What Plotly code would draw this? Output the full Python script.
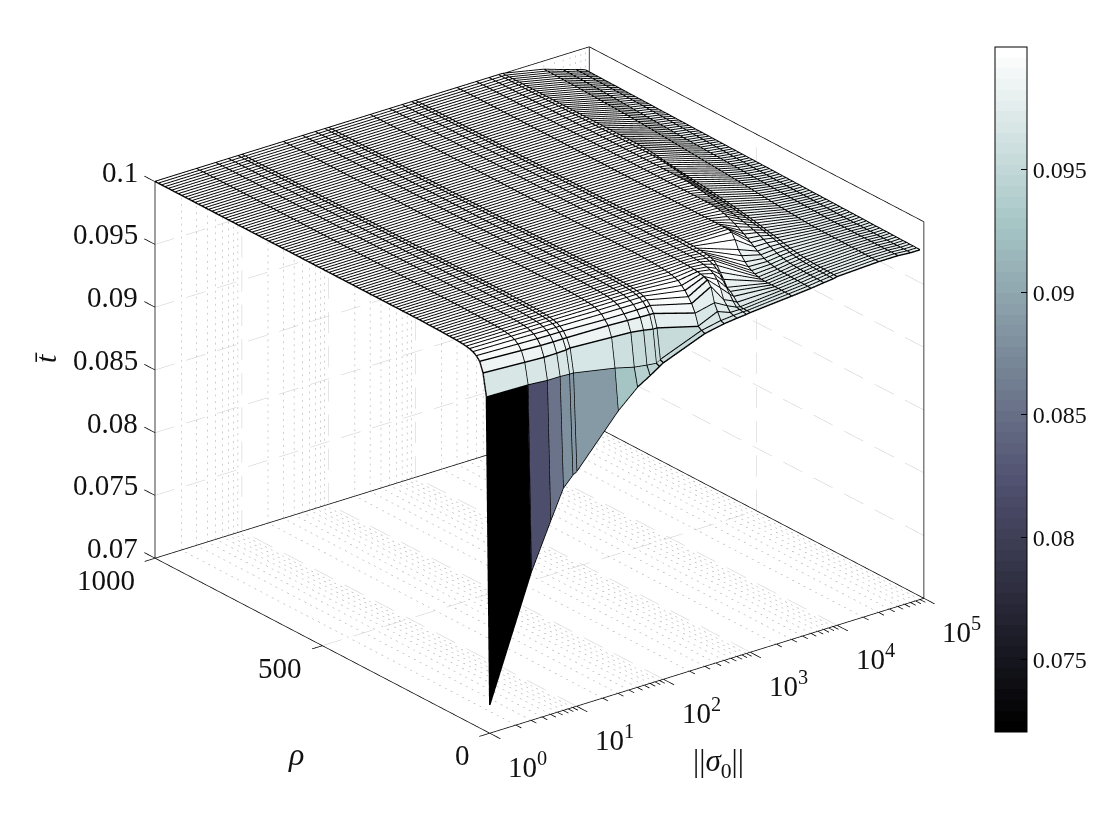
import numpy as np
import plotly.graph_objects as go

# ---------- data ----------
sigma = [1, 3, 5, 7, 9, 10, 30, 50, 70, 90, 100, 300, 500, 700, 900, 1000,
         3000, 5000, 7000, 9000, 10000, 30000, 50000, 70000, 90000]
rho_near = list(range(0, 200, 10))
rho_far = list(range(200, 1001, 10))

# t-bar x 1e5, one list per sigma column, rows = rho_near
near_columns = [
    [7223, 9667, 9841, 9920, 9950, 9968, 9978, 9984, 9988, 9990, 9992, 9993, 9994, 9995, 9996, 9997, 9997, 9998, 9998, 9999],
    [8180, 9660, 9823, 9903, 9940, 9962, 9974, 9981, 9986, 9989, 9991, 9993, 9994, 9995, 9996, 9997, 9997, 9998, 9998, 9999],
    [8540, 9647, 9815, 9895, 9935, 9958, 9972, 9980, 9985, 9988, 9991, 9992, 9994, 9995, 9996, 9996, 9997, 9998, 9998, 9999],
    [8770, 9647, 9816, 9893, 9933, 9957, 9971, 9980, 9985, 9988, 9990, 9992, 9994, 9995, 9996, 9996, 9997, 9998, 9998, 9999],
    [8850, 9642, 9819, 9893, 9932, 9956, 9971, 9979, 9985, 9988, 9990, 9992, 9994, 9995, 9996, 9996, 9997, 9998, 9998, 9999],
    [8870, 9642, 9825, 9893, 9932, 9956, 9971, 9979, 9985, 9988, 9990, 9992, 9994, 9995, 9996, 9996, 9997, 9998, 9998, 9999],
    [9250, 9578, 9807, 9887, 9920, 9950, 9966, 9977, 9983, 9987, 9990, 9992, 9993, 9995, 9996, 9996, 9997, 9998, 9998, 9999],
    [9390, 9538, 9799, 9880, 9918, 9948, 9965, 9976, 9982, 9987, 9990, 9992, 9993, 9994, 9995, 9996, 9997, 9998, 9998, 9999],
    [9450, 9523, 9785, 9875, 9918, 9947, 9964, 9975, 9982, 9986, 9989, 9991, 9993, 9994, 9995, 9996, 9997, 9997, 9998, 9998],
    [9500, 9514, 9770, 9872, 9918, 9947, 9964, 9975, 9982, 9986, 9989, 9991, 9993, 9994, 9995, 9996, 9997, 9997, 9998, 9998],
    [9520, 9530, 9770, 9871, 9920, 9950, 9966, 9976, 9982, 9986, 9989, 9991, 9993, 9994, 9995, 9996, 9997, 9997, 9998, 9998],
    [9650, 9660, 9680, 9772, 9833, 9873, 9909, 9935, 9960, 9970, 9978, 9984, 9988, 9991, 9993, 9995, 9996, 9997, 9998, 9998],
    [9681, 9690, 9749, 9807, 9920, 9960, 9972, 9978, 9983, 9987, 9990, 9992, 9994, 9995, 9996, 9997, 9997, 9998, 9998, 9999],
    [9693, 9700, 9710, 9750, 9785, 9865, 9917, 9950, 9966, 9975, 9982, 9987, 9990, 9992, 9994, 9995, 9996, 9997, 9998, 9998],
    [9700, 9705, 9710, 9715, 9750, 9790, 9830, 9870, 9910, 9940, 9960, 9970, 9978, 9984, 9988, 9991, 9993, 9995, 9996, 9997],
    [9705, 9705, 9706, 9708, 9730, 9763, 9789, 9807, 9857, 9900, 9941, 9967, 9978, 9985, 9989, 9992, 9994, 9996, 9997, 9998],
    [9734, 9735, 9736, 9737, 9737, 9738, 9738, 9738, 9738, 9740, 9745, 9755, 9768, 9785, 9810, 9845, 9880, 9945, 9990, 10000],
    [9748, 9749, 9750, 9751, 9752, 9753, 9754, 9755, 9756, 9757, 9760, 9765, 9772, 9780, 9790, 9805, 9820, 9840, 9860, 9880],
    [9761, 9762, 9763, 9764, 9765, 9766, 9767, 9768, 9770, 9772, 9775, 9779, 9785, 9792, 9800, 9812, 9825, 9840, 9855, 9868],
    [9769, 9770, 9771, 9772, 9773, 9774, 9775, 9776, 9778, 9780, 9783, 9787, 9792, 9798, 9805, 9813, 9822, 9832, 9840, 9848],
    [9777, 9777, 9778, 9779, 9780, 9780, 9781, 9782, 9784, 9786, 9789, 9792, 9796, 9801, 9807, 9813, 9820, 9827, 9834, 9840],
    [9793, 9793, 9794, 9794, 9795, 9795, 9795, 9796, 9796, 9796, 9797, 9797, 9797, 9798, 9798, 9798, 9798, 9799, 9799, 9800],
    [9793, 9793, 9793, 9793, 9793, 9793, 9793, 9794, 9794, 9794, 9794, 9794, 9794, 9794, 9794, 9794, 9795, 9795, 9795, 9795],
    [9785, 9785, 9785, 9786, 9786, 9786, 9786, 9787, 9787, 9787, 9787, 9788, 9788, 9788, 9788, 9789, 9789, 9789, 9789, 9790],
    [9785, 9785, 9786, 9786, 9787, 9787, 9787, 9788, 9788, 9789, 9789, 9789, 9790, 9790, 9790, 9791, 9791, 9792, 9792, 9792],
]

# rows = rho_far; the plateau of the surface sits at 0.1
plateau = [10000] * 81
far_5000 = [9900, 9915, 9930, 9945, 9958, 9970, 9980, 9988, 9994, 9998] + [10000] * 71
far_7000 = [9880, 9888, 9896, 9904, 9911, 9918, 9925, 9932, 9938, 9944, 9950, 9955, 9960, 9965,
            9970, 9975, 9980, 9984, 9988, 9992, 9996, 9998, 9999] + [10000] * 58
far_9000 = [9855, 9862, 9868, 9874, 9880, 9886, 9892, 9897, 9902, 9907, 9912, 9916, 9920, 9924,
            9928, 9932, 9936, 9940, 9944, 9947, 9950, 9954, 9958, 9962, 9966, 9970, 9974, 9978,
            9982, 9986, 9990, 9993, 9996, 9998, 9999] + [10000] * 46
far_10000 = [9845, 9851, 9857, 9863, 9869, 9875, 9880, 9885, 9890, 9895, 9900, 9904, 9908, 9912,
             9916, 9920, 9924, 9928, 9932, 9935, 9938, 9941, 9944, 9947, 9950, 9953, 9956, 9960,
             9964, 9968, 9972, 9976, 9980, 9984, 9988, 9992, 9995, 9997, 9998, 9999] + [10000] * 41
far_30000 = [9800, 9802, 9804, 9806, 9808, 9810, 9812, 9814, 9816, 9818,
             9820, 9822, 9824, 9827, 9830, 9832, 9834, 9837, 9840, 9842,
             9845, 9847, 9849, 9851, 9853, 9855, 9857, 9859, 9861, 9863,
             9865, 9867, 9869, 9871, 9873, 9875, 9877, 9879, 9881, 9883,
             9885, 9887, 9889, 9891, 9893, 9895, 9897, 9899, 9901, 9902,
             9903, 9905, 9906, 9908, 9909, 9911, 9912, 9913, 9914, 9915,
             9916, 9917, 9918, 9919, 9920, 9921, 9922, 9923, 9924, 9925,
             9926, 9926, 9927, 9927, 9928, 9928, 9929, 9929, 9930, 9930, 9931]
far_50000 = [9795, 9796, 9797, 9798, 9799, 9800, 9801, 9802, 9803, 9804,
             9805, 9806, 9807, 9808, 9809, 9810, 9811, 9812, 9813, 9814,
             9815, 9816, 9817, 9818, 9819, 9820, 9821, 9822, 9823, 9824,
             9825, 9826, 9827, 9828, 9829, 9830, 9831, 9832, 9833, 9834,
             9835, 9836, 9838, 9839, 9840, 9841, 9842, 9843, 9845, 9846,
             9847, 9848, 9850, 9851, 9852, 9853, 9855, 9856, 9857, 9858,
             9860, 9861, 9862, 9864, 9865, 9866, 9867, 9868, 9870, 9871,
             9872, 9873, 9874, 9875, 9876, 9877, 9877, 9878, 9879, 9879, 9880]
far_70000 = [9790, 9791, 9791, 9792, 9793, 9793, 9794, 9795, 9795, 9796,
             9797, 9797, 9798, 9799, 9799, 9800, 9801, 9801, 9802, 9803,
             9803, 9804, 9805, 9805, 9806, 9807, 9807, 9808, 9809, 9809,
             9810, 9811, 9812, 9813, 9814, 9815, 9816, 9817, 9818, 9819,
             9820, 9821, 9822, 9823, 9824, 9825, 9826, 9827, 9828, 9829,
             9830, 9831, 9832, 9833, 9834, 9835, 9836, 9837, 9838, 9839,
             9840, 9841, 9841, 9842, 9843, 9843, 9844, 9845, 9845, 9846,
             9846, 9847, 9847, 9848, 9848, 9849, 9849, 9849, 9850, 9850, 9850]
far_90000 = [9793, 9793, 9794, 9794, 9794, 9795, 9795, 9796, 9796, 9796,
             9797, 9797, 9797, 9798, 9798, 9799, 9799, 9799, 9800, 9800,
             9801, 9801, 9801, 9802, 9802, 9803, 9803, 9803, 9804, 9804,
             9805, 9805, 9805, 9806, 9806, 9807, 9807, 9807, 9808, 9808,
             9809, 9809, 9809, 9810, 9810, 9811, 9811, 9811, 9812, 9812,
             9813, 9813, 9813, 9814, 9814, 9815, 9815, 9815, 9816, 9816,
             9817, 9817, 9817, 9818, 9818, 9819, 9819, 9819, 9820, 9820,
             9821, 9821, 9821, 9822, 9822, 9823, 9823, 9823, 9824, 9824, 9824]
far_columns = [plateau] * 17 + [far_5000, far_7000, far_9000, far_10000, far_30000,
                                far_50000, far_70000, far_90000]

x_major = [1, 10, 100, 1000, 10000, 100000]
x_minor_mult = [2, 3, 4, 5, 6, 7, 8, 9]
y_ticks = [0, 500, 1000]
z_ticks = [0.07, 0.075, 0.08, 0.085, 0.09, 0.095, 0.1]
z_tick_text = ["0.07", "0.075", "0.08", "0.085", "0.09", "0.095", "0.1"]
cbar_ticks = [0.075, 0.08, 0.085, 0.09, 0.095]
cbar_text = ["0.075", "0.08", "0.085", "0.09", "0.095"]
c_min, c_max = 0.07206, 0.1

FONT = "Liberation Serif"
X0, X1, Y0, Y1, Z0, Z1 = 1, 100000, 0, 1000, 0.07, 0.1

# ---------- derived ----------
rho = rho_near + rho_far
Z = np.array([n + f for n, f in zip(near_columns, far_columns)], dtype=float).T / 1e5
nr, nc = Z.shape

# MATLAB bone colormap with 64 steps
t = np.linspace(0, 1, 64)
r = np.interp(t, [0, 0.746032, 1], [0, 0.652778, 1])
g = np.interp(t, [0, 0.365079, 0.746032, 1], [0, 0.319444, 0.777778, 1])
b = np.interp(t, [0, 0.365079, 1], [0, 0.444444, 1])
bone = []
for n in range(64):
    col = f"rgb({int(r[n]*255)},{int(g[n]*255)},{int(b[n]*255)})"
    bone += [[n / 64, col], [(n + 1) / 64, col]]

vx, vy, vz = [], [], []
for jr in range(nr):
    for ic in range(nc):
        vx.append(sigma[ic]); vy.append(rho[jr]); vz.append(Z[jr, ic])
I, J, K, C = [], [], [], []
for jr in range(nr - 1):
    for ic in range(nc - 1):
        a = jr * nc + ic
        I += [a, a]; J += [a + 1, a + nc + 1]; K += [a + nc + 1, a + nc]
        C += [Z[jr, ic], Z[jr, ic]]

fig = go.Figure()
fig.add_trace(go.Mesh3d(
    x=vx, y=vy, z=vz, i=I, j=J, k=K, intensity=C, intensitymode="cell",
    colorscale=bone, cmin=c_min, cmax=c_max, flatshading=True,
    lighting=dict(ambient=1, diffuse=0, specular=0, roughness=1, fresnel=0),
    hoverinfo="skip",
    colorbar=dict(
        x=995 / 1120, xanchor="left", xpad=0, y=108 / 840, yanchor="bottom", ypad=0,
        thickness=32, thicknessmode="pixels", len=685, lenmode="pixels",
        outlinecolor="black", outlinewidth=1, ticks="inside", ticklen=6, tickcolor="black",
        tickvals=cbar_ticks, ticktext=cbar_text,
        tickfont=dict(family=FONT, size=24, color="#111"))))


def lines(segs, color, width=1):
    xs, ys, zs = [], [], []
    for p, q in segs:
        xs += [p[0], q[0], None]; ys += [p[1], q[1], None]; zs += [p[2], q[2], None]
    fig.add_trace(go.Scatter3d(x=xs, y=ys, z=zs, mode="lines", hoverinfo="skip", showlegend=False,
                               line=dict(color=color, width=width)))


def dashed(p, q, periods, on):
    """Dashes along p->q, geometric in x because that axis is logarithmic."""
    out = []
    for n in range(periods):
        a, b_ = n / periods, (n + on) / periods
        def at(s):
            return (p[0] * (q[0] / p[0]) ** s, p[1] + (q[1] - p[1]) * s, p[2] + (q[2] - p[2]) * s)
        out.append((at(a), at(b_)))
    return out


x_minor = [m * d for d in x_major[:-1] for m in x_minor_mult]
z_major_seg, minor_seg = [], []
for v in x_major[1:-1]:
    z_major_seg += dashed((v, Y1, Z0), (v, Y1, Z1), 11, 0.62)
    z_major_seg += dashed((v, Y0, Z0), (v, Y1, Z0), 11, 0.62)
for v in x_minor:
    minor_seg += dashed((v, Y1, Z0), (v, Y1, Z1), 58, 0.3)
    minor_seg += dashed((v, Y0, Z0), (v, Y1, Z0), 58, 0.3)
for v in z_ticks[1:-1]:
    z_major_seg += dashed((X0, Y1, v), (X1, Y1, v), 14, 0.62)
    z_major_seg += dashed((X1, Y0, v), (X1, Y1, v), 11, 0.62)
for v in y_ticks[1:-1]:
    z_major_seg += dashed((X0, v, Z0), (X1, v, Z0), 14, 0.62)
    z_major_seg += dashed((X1, v, Z0), (X1, v, Z1), 11, 0.62)
lines(minor_seg, "#a0a0a0")
lines(z_major_seg, "#cccccc")

# box
box = [((X0, Y0, Z0), (X1, Y0, Z0)), ((X0, Y0, Z0), (X0, Y1, Z0)),
       ((X0, Y1, Z0), (X1, Y1, Z0)), ((X1, Y0, Z0), (X1, Y1, Z0)),
       ((X0, Y1, Z0), (X0, Y1, Z1)), ((X1, Y0, Z0), (X1, Y0, Z1)), ((X1, Y1, Z0), (X1, Y1, Z1)),
       ((X0, Y1, Z1), (X1, Y1, Z1)), ((X1, Y0, Z1), (X1, Y1, Z1))]
ticks = []
for v in x_major:
    ticks.append(((v, Y0, Z0), (v, Y0 - 32, Z0)))
for v in x_minor:
    ticks.append(((v, Y0, Z0), (v, Y0 - 16, Z0)))
for v in y_ticks:
    ticks.append(((X0, v, Z0), (X0 * 10 ** -0.12, v, Z0)))
for v in z_ticks:
    ticks.append(((X0, Y1, v), (X0, Y1 + 32, v)))
lines(box + ticks, "#000000", 1.5)

# mesh lines, lifted a hair so they are not lost in the facets
lift = 1.5e-5
row_segs = [((sigma[c], rho[j], Z[j, c] + lift), (sigma[c + 1], rho[j], Z[j, c + 1] + lift))
            for j in range(nr) for c in range(nc - 1)]
col_segs = [((sigma[c], rho[j], Z[j, c] + lift), (sigma[c], rho[j + 1], Z[j + 1, c] + lift))
            for c in range(nc) for j in range(nr - 1)]
lines(row_segs + col_segs, "#000000", 2.8)

tf = dict(family=FONT, size=29, color="#111")
scene_ann = []
for v, s in zip(z_ticks, z_tick_text):
    scene_ann.append(dict(x=np.log10(X0), y=Y1, z=v, text=s, showarrow=False, xanchor="right", xshift=-15, yshift=10, font=tf))
for v in y_ticks:
    scene_ann.append(dict(x=np.log10(X0), y=v, z=Z0, text=str(v), showarrow=False, xanchor="right", xshift=-18, yshift=-22, font=tf))
for e, v in enumerate(x_major):
    scene_ann.append(dict(x=np.log10(v), y=Y0, z=Z0, text=f"10<sup>{e}</sup>", showarrow=False, xanchor="center",
                          xshift=38, yshift=-32, font=tf))

hidden = dict(visible=False, showgrid=False, zeroline=False, showline=False, showticklabels=False,
              showbackground=False, showspikes=False, ticks="", title="")
ex, ey, ez = -0.5586, -0.7247, 0.403
NORM = 2.0
fig.update_layout(
    width=1120, height=840, margin=dict(l=0, r=0, t=0, b=0), paper_bgcolor="white",
    showlegend=False,
    scene=dict(
        domain=dict(x=[0, 1079 / 1120], y=[60 / 840, 1]),
        xaxis=dict(type="log", range=[-0.15, 5.15], **hidden),
        yaxis=dict(range=[-40, 1040], **hidden),
        zaxis=dict(range=[0.0695, 0.1005], **hidden),
        aspectmode="manual", aspectratio=dict(x=1.490, y=1.518, z=1.090),
        camera=dict(eye=dict(x=ex * NORM, y=ey * NORM, z=ez * NORM), up=dict(x=0, y=0, z=1),
                    center=dict(x=0, y=0, z=0), projection=dict(type="orthographic")),
        annotations=scene_ann),
    annotations=[
        dict(x=296 / 1120, y=1 - 754 / 840, xref="paper", yref="paper", showarrow=False,
             xanchor="center", yanchor="middle",
             text="<i>ρ</i>", font=dict(family=FONT, size=32, color="#111")),
        dict(x=718 / 1120, y=1 - 763 / 840, xref="paper", yref="paper", showarrow=False,
             xanchor="center", yanchor="middle",
             text="||<i>σ</i><sub>0</sub>||", font=dict(family=FONT, size=31, color="#111")),
        dict(x=45 / 1120, y=1 - 358 / 840, xref="paper", yref="paper", showarrow=False, textangle=-90,
             xanchor="center", yanchor="middle",
             text="<i>t̄</i>", font=dict(family=FONT, size=30, color="#111")),
    ])

fig.write_html("out.html", config=dict(displayModeBar=False),
               post_script="document.body.style.margin='0';document.documentElement.style.overflow='hidden';")
